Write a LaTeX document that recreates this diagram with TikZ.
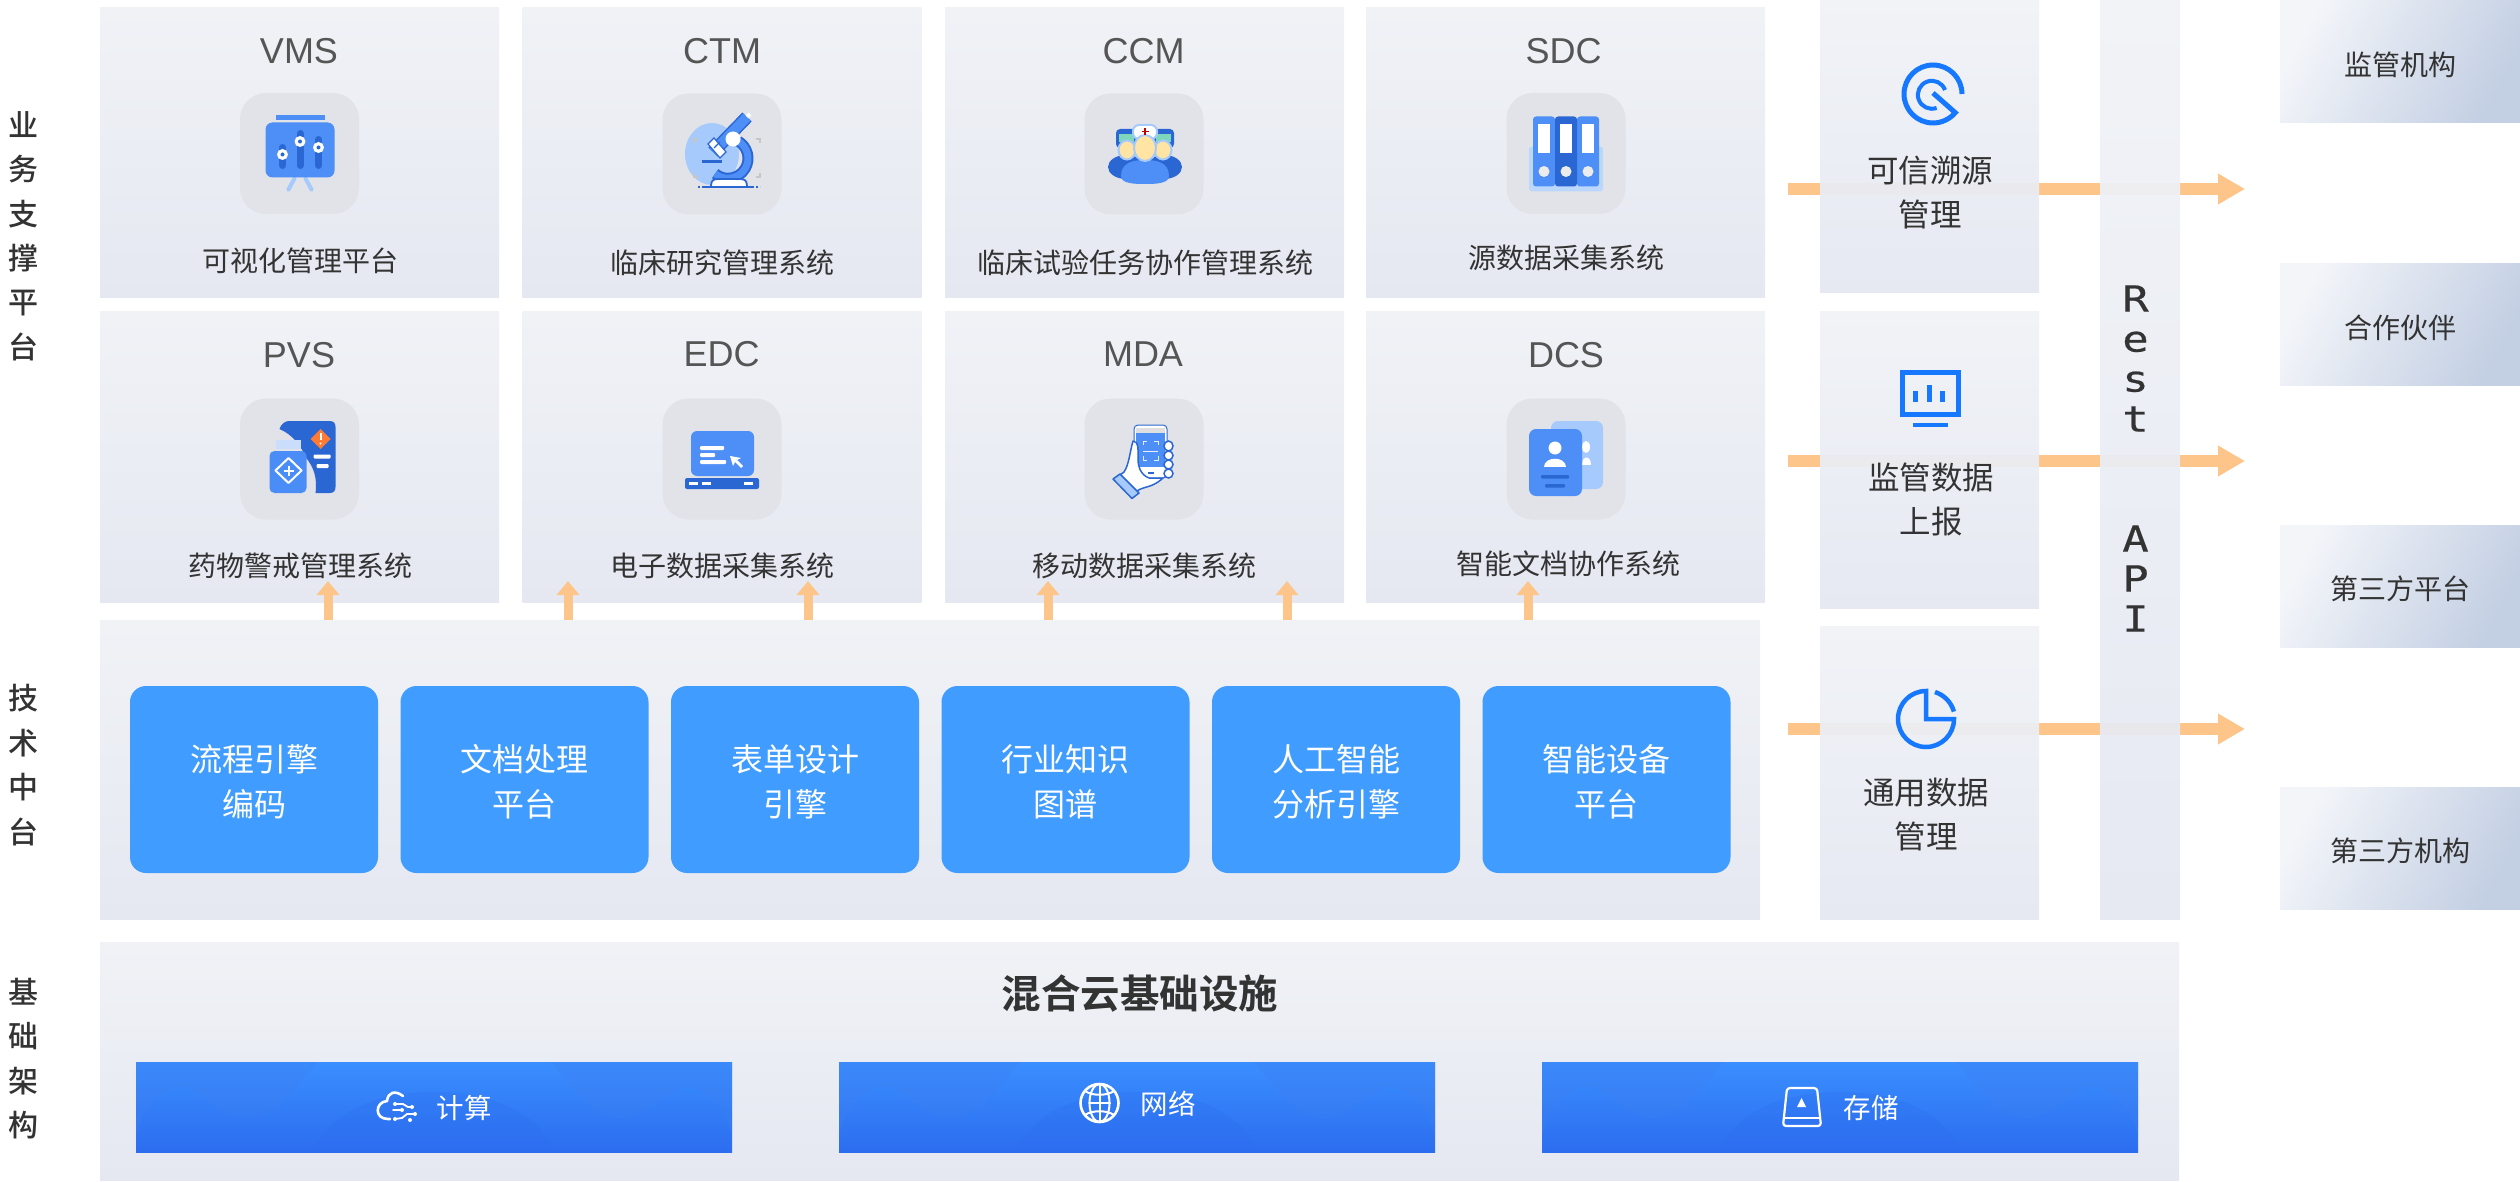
\documentclass[tikz,border=0pt]{standalone}
\usepackage{fontspec}
\usetikzlibrary{arrows.meta}
\setmainfont{Noto Sans CJK SC}
\newfontfamily\medfont{Noto Sans CJK SC Medium}
\newfontfamily\headfont{Noto Sans CJK SC Bold}
\newfontfamily\codefont{Liberation Sans}
\newfontfamily\apifont[FakeStretch=1.22,FakeBold=0.5]{DejaVu Sans Mono}
\definecolor{panelTop}{HTML}{F0F2F6}
\definecolor{panelBot}{HTML}{E5E8F1}
\definecolor{partyTop}{HTML}{F3F5F9}
\definecolor{partyBot}{HTML}{C3CFE3}
\definecolor{tileGray}{HTML}{E2E3E8}
\definecolor{iconBlue}{HTML}{4D8EF7}
\definecolor{iconDark}{HTML}{2A67D2}
\definecolor{iconPale}{HTML}{A6CAFB}
\definecolor{lineBlue}{HTML}{1677FF}
\definecolor{engineBlue}{HTML}{409CFF}
\definecolor{flowOrange}{HTML}{FEC58A}
\definecolor{resDull}{HTML}{3F80F0}
\definecolor{resBot}{HTML}{2C6DEF}
\definecolor{resGlow}{HTML}{3A8EFF}
\definecolor{inkDark}{HTML}{333333}
\definecolor{inkGray}{HTML}{555555}
\tikzset{
    panel/.style={shade, top color=panelTop, bottom color=panelBot, inner sep=0pt},
    sys/.style={panel, minimum width=399pt, minimum height=290pt},
    veiled/.style={panel, fill opacity=0.95},
    party/.style={shade, top color=partyTop, bottom color=partyBot, shading angle=62, inner sep=0pt,
        minimum width=240pt, minimum height=122pt},
    tile/.style={fill=tileGray, rounded corners=26pt, minimum width=119pt, minimum height=121pt, inner sep=0pt},
    engine/.style={fill=engineBlue, rounded corners=16pt, minimum width=248pt, minimum height=187pt, inner sep=0pt},
    res/.style={shade, top color=resGlow, bottom color=resBot, inner sep=0pt, minimum width=596pt, minimum height=90pt},
    code/.style={text=inkGray, font=\codefont\fontsize{36}{40}\selectfont, inner sep=0pt},
    sub/.style={text=inkDark, font=\fontsize{28}{34}\selectfont, inner sep=0pt},
    side/.style={text=inkDark, font=\medfont\fontsize{30}{44.4}\selectfont, align=center, inner sep=0pt},
    midtext/.style={text=inkDark, font=\fontsize{31.5}{44}\selectfont, align=center, inner sep=0pt},
    enginetext/.style={text=white, font=\fontsize{32}{45}\selectfont, align=center, inner sep=0pt},
    restext/.style={text=white, font=\fontsize{27.5}{32}\selectfont, inner sep=0pt},
    flow/.style={draw=flowOrange, line width=12pt, -{Triangle[length=27pt,width=29pt,fill=flowOrange]}},
    feed/.style={draw=flowOrange, line width=9pt, -{Triangle[length=14pt,width=22pt,fill=flowOrange]}},
    outline/.style={draw=lineBlue, line width=5pt},
    whiteline/.style={draw=white, line width=2.6pt, line cap=round, line join=round}
}
\newcommand{\barwave}{
    \fill[resDull, opacity=0.3] (0,0) -- (181,0) .. controls (160,25) and (140,56) .. (111,56) .. controls (85,56) and (65,25) .. (44,25)
        .. controls (25,25) and (8,45) .. (0,73) -- cycle;
    \fill[resDull, opacity=0.3] (596,0) -- (415,0) .. controls (436,25) and (456,56) .. (485,56) .. controls (511,56) and (531,25) .. (552,25)
        .. controls (571,25) and (588,45) .. (596,73) -- cycle;
    \fill[resBot, opacity=0.25] (176,90) .. controls (195,50) and (240,30) .. (298,30) .. controls (356,30) and (401,50) .. (420,90) -- cycle;
}
\begin{document}
\begin{tikzpicture}[x=1pt, y=-1pt]
    \useasboundingbox (0,0) rectangle (2520,1182);
    \coordinate (in1) at (1788,189);
    \coordinate (in2) at (1788,461);
    \coordinate (in3) at (1788,729);
    \coordinate (out1) at (2245,189);
    \coordinate (out2) at (2245,461);
    \coordinate (out3) at (2245,729);
    \draw[flow] (in1) -- (out1);
    \draw[flow] (in2) -- (out2);
    \draw[flow] (in3) -- (out3);

    \node[side] (bizlabel) at (24,236) {业\\务\\支\\撑\\平\\台};
    \node[side] (techlabel) at (24,765) {技\\术\\中\\台};
    \node[side] (baselabel) at (24,1058.5) {基\\础\\架\\构};

    \node[sys] (vms) at (299.5,152.5) {};
    \node[sys] (ctm) at (722,153) {};
    \node[sys] (ccm) at (1144.5,153) {};
    \node[sys] (sdc) at (1565.5,152.5) {};
    \node[sys] (pvs) at (299.5,457) {};
    \node[sys] (edc) at (722,457) {};
    \node[sys] (mda) at (1144.5,457) {};
    \node[sys] (dcs) at (1565.5,457) {};

    \node[code] (vmscode) at (299,51.5) {VMS};
    \node[code] (ctmcode) at (722,51.5) {CTM};
    \node[code] (ccmcode) at (1143.5,51.5) {CCM};
    \node[code] (sdccode) at (1563.5,51.5) {SDC};
    \node[code] (pvscode) at (299,355) {PVS};
    \node[code] (edccode) at (721.5,354) {EDC};
    \node[code] (mdacode) at (1143,354) {MDA};
    \node[code] (dcscode) at (1566,355) {DCS};

    \node[tile] (vmstile) at (299.5,153.5) {};
    \node[tile] (ctmtile) at (722,154) {};
    \node[tile] (ccmtile) at (1144,154) {};
    \node[tile] (sdctile) at (1566,153.5) {};
    \node[tile] (pvstile) at (299.5,459) {};
    \node[tile] (edctile) at (722,459) {};
    \node[tile] (mdatile) at (1144,459) {};
    \node[tile] (dcstile) at (1566,459) {};

    \node[sub] (vmsname) at (300,261) {可视化管理平台};
    \node[sub] (ctmname) at (722,263) {临床研究管理系统};
    \node[sub] (ccmname) at (1145,263) {临床试验任务协作管理系统};
    \node[sub] (sdcname) at (1566,258) {源数据采集系统};
    \node[sub] (pvsname) at (300,566) {药物警戒管理系统};
    \node[sub] (edcname) at (722.5,566) {电子数据采集系统};
    \node[sub] (mdaname) at (1144,566) {移动数据采集系统};
    \node[sub] (dcsname) at (1568,564) {智能文档协作系统};

    % visual board
    \begin{scope}[shift={(vmstile.center)}]
        \draw[iconPale, line width=4pt, line cap=round] (-5,25) -- (-11,36);
        \draw[iconPale, line width=4pt, line cap=round] (6,25) -- (12,36);
        \fill[iconBlue] (-24,-38) rectangle (25,-33);
        \fill[iconBlue, rounded corners=7pt] (-34,-31) rectangle (35,24);
        \draw[iconDark, line width=7pt, line cap=round] (-17,-6) -- (-17,12);
        \draw[iconDark, line width=7pt, line cap=round] (0.5,-20) -- (0.5,12);
        \draw[iconDark, line width=7pt, line cap=round] (19,-14) -- (19,12);
        \fill[white] (-17,1) circle (5.5);
        \fill[white] (0.5,-12) circle (5.5);
        \fill[white] (19,-6) circle (5.5);
        \fill[iconDark] (-17,1) circle (2);
        \fill[iconDark] (0.5,-12) circle (2);
        \fill[iconDark] (19,-6) circle (2);
    \end{scope}

    % microscope
    \begin{scope}[shift={(ctmtile.center)}]
        \fill[iconPale] (-10,0) ellipse (27 and 31);
        \draw[gray!45, line width=1.5pt] (-28,-11) -- (-28,-15) -- (-24,-15);
        \draw[gray!45, line width=1.5pt] (34,-15) -- (38,-15) -- (38,-11);
        \draw[gray!45, line width=1.5pt] (-28,19) -- (-28,23) -- (-24,23);
        \draw[gray!45, line width=1.5pt] (34,23) -- (38,23) -- (38,19);
        \draw[iconDark, line width=11pt] (16,-13) arc[start angle=60, end angle=-130, radius=20pt];
        \draw[iconBlue, line width=7pt] (16,-13) arc[start angle=60, end angle=-130, radius=20pt];
        \draw[iconDark, line width=3pt] (-20,8) -- (0,8);
        \draw[iconDark, line width=13pt] (-9,-2) -- (25,-37);
        \draw[iconBlue, line width=10pt] (-9,-2) -- (25,-37);
        \draw[white, line width=4pt] (25,-37) -- (28,-40);
        \draw[draw=iconDark, fill=white, line width=1.2pt] (-14,-10) -- (-8,-16) -- (4,-2) -- (-2,4) -- cycle;
        \draw[iconDark, line width=1.2pt] (-8,-6) -- (-2,-12);
        \fill[white] (11,-15) circle (7.5);
        \draw[draw=iconDark, fill=white, line width=1.8pt] (-11,32) .. controls (-11,26) and (-8,25) .. (-4,25) -- (18,25) .. controls (22,25) and (25,26) .. (25,32);
        \draw[iconDark, line width=2pt] (-20,33) -- (30,33);
        \draw[iconDark, line width=2pt, dotted] (-24,33) -- (-20,33);
        \draw[iconDark, line width=2pt, dotted] (30,33) -- (38,33);
    \end{scope}

    % medical team
    \begin{scope}[shift={(ccmtile.center)}]
        \fill[iconDark] (-18,13) ellipse (18 and 12);
        \fill[iconDark] (20,13) ellipse (18 and 12);
        \fill[iconDark, rounded corners=4pt] (-28,-25) rectangle (-8,-6);
        \fill[iconDark, rounded corners=4pt] (10,-25) rectangle (30,-6);
        \fill[green!25!iconPale] (-25,-20) rectangle (-10,-12);
        \fill[green!25!iconPale] (12,-20) rectangle (27,-12);
        \draw[iconPale, fill=orange!25!white!85!yellow, line width=2pt] (-17,-4) ellipse (8.5 and 9.5);
        \draw[iconPale, fill=orange!25!white!85!yellow, line width=2pt] (19,-4) ellipse (8.5 and 9.5);
        \fill[iconBlue] (-23,22) .. controls (-23,8) and (-10,6) .. (1,6) .. controls (12,6) and (25,8) .. (25,22) .. controls (25,30) and (10,30) .. (1,30) .. controls (-8,30) and (-23,30) .. (-23,22) -- cycle;
        \draw[iconPale, fill=white, line width=2pt, rounded corners=6pt] (-11,-15) -- (-11,-29) -- (13,-29) -- (13,-15) -- cycle;
        \draw[iconPale, fill=orange!25!white!85!yellow, line width=2pt] (1,-6) ellipse (11 and 13);
        \draw[red!75!black, line width=1.8pt] (-2.5,-22.5) -- (4.5,-22.5);
        \draw[red!75!black, line width=1.8pt] (1,-26) -- (1,-19);
    \end{scope}

    % binders
    \begin{scope}[shift={(sdctile.center)}]
        \fill[iconPale!75!white, rounded corners=3pt] (-37,-7) rectangle (37,38);
        \fill[iconBlue, rounded corners=3pt] (-33,-37) rectangle (-11,33);
        \fill[iconBlue, rounded corners=3pt] (11,-37) rectangle (33,33);
        \fill[iconDark, rounded corners=3pt] (-11,-37) rectangle (11,33);
        \fill[white] (-28,-29) rectangle (-16,0);
        \fill[white] (-6,-29) rectangle (6,0);
        \fill[white] (16,-29) rectangle (28,0);
        \fill[gray!15] (-22,18) circle (5.5);
        \fill[gray!15] (0,18) circle (5.5);
        \fill[gray!15] (22,18) circle (5.5);
    \end{scope}

    % warning bottle
    \begin{scope}[shift={(pvstile.center)}]
        \fill[iconDark] (-20,-30) .. controls (-18,-36) and (-14,-38) .. (-10,-38) -- (30,-38) .. controls (34,-38) and (36,-36) .. (36,-32) -- (36,28) .. controls (36,32) and (34,34) .. (30,34) -- (16,34) .. controls (18,18) and (14,8) .. (6,-2) .. controls (2,-12) and (-6,-24) .. (-20,-30) -- cycle;
        \fill[orange!70!red!80!white] (21,-30) -- (31,-20) -- (21,-10) -- (11,-20) -- cycle;
        \draw[white, line width=2pt] (21,-26) -- (21,-19);
        \fill[white] (21,-15.5) circle (1.2);
        \fill[white, rounded corners=1pt] (14,-4.5) rectangle (31,-0.5);
        \fill[white, rounded corners=1pt] (17,5) rectangle (29,9);
        \fill[iconBlue!30!white] (-24,-19) rectangle (1,-10);
        \fill[iconBlue!95!lineBlue, rounded corners=5pt] (-30,-8) rectangle (7,34);
        \draw[white, line width=2pt, line join=round] (-11,-1) -- (2,11.5) -- (-11,24) -- (-24,11.5) -- cycle;
        \draw[white, line width=2pt] (-16,11.5) -- (-6,11.5);
        \draw[white, line width=2pt] (-11,6.5) -- (-11,16.5);
    \end{scope}

    % data entry terminal
    \begin{scope}[shift={(edctile.center)}]
        \fill[iconBlue, rounded corners=6pt] (-31,17) -- (-31,-28) -- (32,-28) -- (32,17) -- cycle;
        \fill[white, rounded corners=1pt] (-22,-13) rectangle (2,-9);
        \fill[white, rounded corners=1pt] (-22,-6) rectangle (-7,-2);
        \fill[white, rounded corners=1pt] (-22,1) rectangle (4,5);
        \fill[white] (8,-3) -- (19,-1) -- (15,1) -- (21,7) -- (19,9) -- (13,3) -- (11,7) -- cycle;
        \fill[iconDark, rounded corners=2pt] (-37,19) rectangle (37,30);
        \fill[white] (-33,23) rectangle (-24,25.5);
        \fill[white] (-20,23) rectangle (-11,25.5);
        \fill[white] (22,23) rectangle (31,25.5);
    \end{scope}

    % phone in hand
    \begin{scope}[shift={(mdatile.center)}]
        \draw[iconDark, fill=white, line width=1pt, rounded corners=4pt] (-10,-34) rectangle (23,19);
        \fill[gray!25] (-8,-31) rectangle (21,-26);
        \fill[iconBlue] (-8,-26) rectangle (21,8);
        \draw[white!70!iconPale, line width=0.8pt] (-1,-14) -- (-1,-18) -- (3,-18);
        \draw[white!70!iconPale, line width=0.8pt] (10,-18) -- (14,-18) -- (14,-14);
        \draw[white!70!iconPale, line width=0.8pt] (-1,-3) -- (-1,1) -- (3,1);
        \draw[white!70!iconPale, line width=0.8pt] (10,1) -- (14,1) -- (14,-3);
        \draw[white!70!iconPale, line width=0.8pt] (-1,-8) -- (14,-8);
        \fill[iconDark] (4,13) rectangle (10,15);
        \draw[iconDark, fill=white, line width=1.5pt, line join=round] (-11,-18) .. controls (-14,-8) and (-15,6) .. (-20,13) -- (-28,19) -- (-12,37) .. controls (-8,30) and (0,29) .. (6,27) .. controls (12,25) and (17,21) .. (19,19) -- (5,19) .. controls (-3,16) and (-6,8) .. (-6,0) .. controls (-6,-8) and (-5,-18) .. (-11,-18) -- cycle;
        \draw[iconDark, fill=iconPale, line width=1.5pt, line join=round] (-31,20) -- (-24,15) -- (-5,34) -- (-12,39.5) -- cycle;
        \draw[iconDark, fill=white, line width=1.5pt] (24.5,-13) ellipse (4.5 and 5);
        \draw[iconDark, fill=white, line width=1.5pt] (24.5,-3.5) ellipse (4.5 and 4.5);
        \draw[iconDark, fill=white, line width=1.5pt] (24.5,5.5) ellipse (4.5 and 4.5);
        \draw[iconDark, fill=white, line width=1.5pt] (24.5,14.5) ellipse (4.5 and 4.5);
    \end{scope}

    % document cards
    \begin{scope}[shift={(dcstile.center)}]
        \fill[iconPale, rounded corners=7pt] (-15,-38) rectangle (37,30);
        \fill[white] (20,-12) ellipse (4 and 6);
        \fill[white] (16,6) .. controls (16,-4) and (25,-4) .. (25,6) -- cycle;
        \fill[iconBlue, rounded corners=7pt] (-37,-30) rectangle (16,37);
        \fill[white] (-11,-11) ellipse (6.5 and 6.5);
        \fill[white] (-22,8) .. controls (-22,-3) and (0,-3) .. (0,8) -- cycle;
        \fill[iconDark, rounded corners=1pt] (-25,16) rectangle (3,19.5);
        \fill[iconDark, rounded corners=1pt] (-21,25) rectangle (-1,28.5);
    \end{scope}

    \node[panel, minimum width=1660pt, minimum height=299pt] (tech) at (930,769.5) {};
    \node[engine] (flowengine) at (254,779.5) {};
    \node[engine] (docengine) at (524.5,779.5) {};
    \node[engine] (formengine) at (795,779.5) {};
    \node[engine] (graphengine) at (1065.5,779.5) {};
    \node[engine] (aiengine) at (1336,779.5) {};
    \node[engine] (deviceengine) at (1606.5,779.5) {};
    \node[enginetext] (flowtext) at ([yshift=-2pt]flowengine.center) {流程引擎\\编码};
    \node[enginetext] (doctext) at ([yshift=-2pt]docengine.center) {文档处理\\平台};
    \node[enginetext] (formtext) at ([yshift=-2pt]formengine.center) {表单设计\\引擎};
    \node[enginetext] (graphtext) at ([yshift=-2pt]graphengine.center) {行业知识\\图谱};
    \node[enginetext] (aitext) at ([yshift=-2pt]aiengine.center) {人工智能\\分析引擎};
    \node[enginetext] (devicetext) at ([yshift=-2pt]deviceengine.center) {智能设备\\平台};

    \node[veiled, minimum width=219pt, minimum height=293pt] (trace) at (1929.5,146.5) {};
    \node[veiled, minimum width=219pt, minimum height=296pt] (report) at (1929.5,460) {};
    \node[veiled, minimum width=219pt, minimum height=293pt] (general) at (1929.5,772.5) {};
    \node[veiled, minimum width=80pt, minimum height=919pt] (api) at (2140,459.5) {};
    \node[midtext] (tracetext) at (1930,193) {可信溯源\\管理};
    \node[midtext] (reporttext) at (1931,499) {监管数据\\上报};
    \node[midtext] (generaltext) at (1926,815) {通用数据\\管理};
    \node[text=inkDark, font=\apifont\fontsize{36}{40}\selectfont, align=center, inner sep=0pt] (apitext) at (2135.5,458.5) {R\\e\\s\\t\\[80pt]A\\P\\I};

    % target ring
    \begin{scope}[shift={(1932,94)}]
        \draw[outline] (30,0) arc[start angle=0, end angle=320, radius=29pt] -- (1,-1);
        \draw[outline, line width=4pt] (13,-4) arc[start angle=20, end angle=290, radius=14pt];
    \end{scope}
    % monitor
    \draw[outline] (1902,372) rectangle (1958,414);
    \fill[lineBlue] (1913,391) rectangle (1918,402);
    \fill[lineBlue] (1927,385) rectangle (1932,402);
    \fill[lineBlue] (1940,391) rectangle (1945,402);
    \draw[lineBlue, line width=4pt] (1913,425) -- (1948,425);
    % pie
    \begin{scope}[shift={(1926,719)}]
        \draw[outline, line width=4.5pt] (0,-28) arc[start angle=90, end angle=360, radius=28pt] -- (0,0) -- cycle;
        \draw[outline, line width=4.5pt] (9,-27) arc[start angle=72, end angle=16, radius=29pt];
    \end{scope}

    \node[party] (regulator) at (2400,62) {};
    \node[party] (partner) at (2400,324.5) {};
    \node[party] (platform) at (2400,586) {};
    \node[party] (agency) at (2400,848) {};
    \node[sub] (regulatortext) at ([yshift=-3pt]regulator.center) {监管机构};
    \node[sub] (partnertext) at ([yshift=-3pt]partner.center) {合作伙伴};
    \node[sub] (platformtext) at ([yshift=-3pt]platform.center) {第三方平台};
    \node[sub] (agencytext) at ([yshift=-3pt]agency.center) {第三方机构};

    \node[panel, minimum width=2079pt, minimum height=238pt] (infra) at (1139.5,1061) {};
    \node[text=inkDark, font=\headfont\fontsize{39.5}{44}\selectfont, inner sep=0pt] (infratext) at (1140,994) {混合云基础设施};
    \node[res] (compute) at (434,1107) {};
    \node[res] (network) at (1137,1107) {};
    \node[res] (storage) at (1840,1107) {};
    \begin{scope}[shift={(136,1062)}]
        \barwave
    \end{scope}
    \begin{scope}[shift={(839,1062)}]
        \barwave
    \end{scope}
    \begin{scope}[shift={(1542,1062)}]
        \barwave
    \end{scope}
    \node[restext] (computetext) at (464,1108) {计算};
    \node[restext] (networktext) at (1168,1104) {网络};
    \node[restext] (storagetext) at (1871,1108) {存储};

    % cloud
    \draw[whiteline] (403,1096) .. controls (395,1090) and (388,1092) .. (387,1101) .. controls (375,1102) and (374,1119) .. (388,1119) -- (390,1119);
    \draw[whiteline, line width=1.8pt] (395,1104) -- (403,1104) -- (408,1107) -- (412,1107);
    \draw[whiteline, line width=1.8pt] (393,1110) -- (402,1110);
    \draw[whiteline, line width=1.8pt] (395,1119) -- (402,1118) -- (407,1114) -- (415,1114);
    \fill[white] (395,1104) circle (2);
    \fill[white] (412,1107) circle (2);
    \fill[white] (402,1110) circle (2);
    \fill[white] (395,1119) circle (2);
    \fill[white] (415,1114) circle (2);
    \fill[white] (410,1120) circle (2);
    % globe
    \draw[whiteline] (1099.5,1103) circle (19);
    \draw[whiteline, line width=2pt] (1099.5,1103) ellipse (10 and 19);
    \draw[whiteline, line width=2pt] (1099.5,1084) -- (1099.5,1122);
    \draw[whiteline, line width=2pt] (1089,1103) -- (1110,1103);
    \draw[whiteline, line width=2pt] (1085,1091) .. controls (1092,1096) and (1107,1096) .. (1114,1091);
    \draw[whiteline, line width=2pt] (1085,1115) .. controls (1092,1110) and (1107,1110) .. (1114,1115);
    % drive
    \draw[whiteline, line width=2.2pt, rounded corners=3pt] (1787,1088) -- (1817,1088) -- (1821,1126) -- (1783,1126) -- cycle;
    \draw[whiteline, line width=2.2pt] (1784,1118) -- (1820,1118);
    \fill[white] (1801.5,1098) -- (1806,1107) -- (1797,1107) -- cycle;

    \coordinate (up1) at (328,581);
    \coordinate (up2) at (568,581);
    \coordinate (up3) at (808,581);
    \coordinate (up4) at (1048,581);
    \coordinate (up5) at (1287,581);
    \coordinate (up6) at (1528,581);
    \draw[feed] (tech.north -| up1) -- (up1);
    \draw[feed] (tech.north -| up2) -- (up2);
    \draw[feed] (tech.north -| up3) -- (up3);
    \draw[feed] (tech.north -| up4) -- (up4);
    \draw[feed] (tech.north -| up5) -- (up5);
    \draw[feed] (tech.north -| up6) -- (up6);
\end{tikzpicture}
\end{document}
